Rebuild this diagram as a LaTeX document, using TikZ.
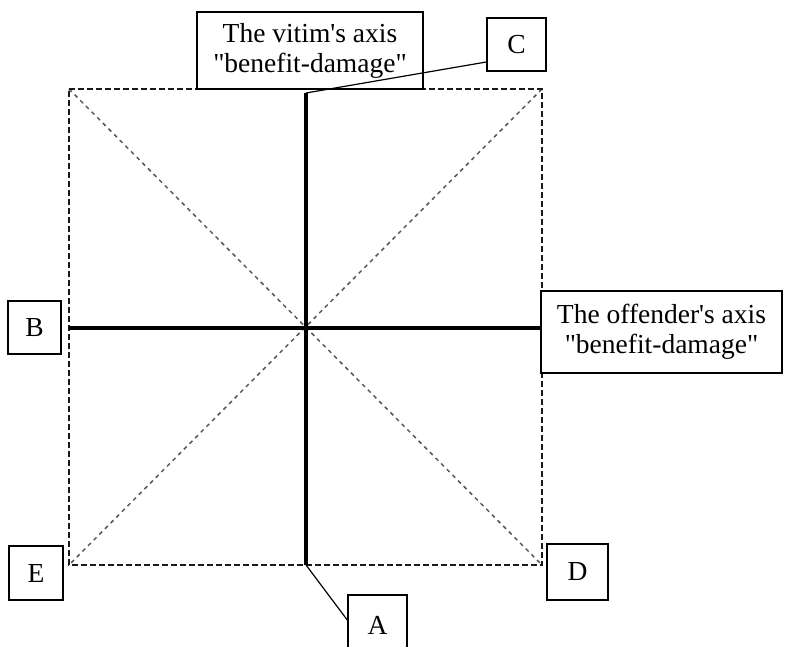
\documentclass[tikz,border=0pt]{standalone}
\usepackage{fontspec}
\setmainfont{Liberation Serif}[Ligatures=TeXOff]
\begin{document}
\begin{tikzpicture}[x=1pt,y=-1pt,
  dsh/.style={draw=black!90,line width=1.3pt,dash pattern=on 6pt off 3pt},
  diag/.style={draw=black!65,line width=1.5pt,dash pattern=on 4pt off 4pt},
  axis/.style={draw=black,line width=4pt},
  lab/.style={draw=black,line width=1.4pt,fill=white,inner sep=0pt,align=center,
    font=\fontsize{27.5}{30}\selectfont},
  conn/.style={draw=black,line width=1.2pt}]
\useasboundingbox (0,0) rectangle (785,647);
% corners of dashed square
\coordinate (q1) at (69,89);
\coordinate (q2) at (542,89);
\coordinate (q3) at (542,565);
\coordinate (q4) at (69,565);
\draw[diag] (q1) -- (q3);
\draw[diag] (q2) -- (q4);
\draw[dsh] (q1) -- (q2) -- (q3) -- (q4) -- cycle;
% axes
\coordinate (vtop) at (306,93);
\coordinate (vbot) at (306,565);
\coordinate (hleft) at (69,328);
\draw[axis] (vtop) -- (vbot);
% boxes
\node[lab,minimum width=226pt,minimum height=77pt] (vit) at (310,50.5) {The vitim's axis\\"benefit-damage"};
\node[lab,minimum width=59pt,minimum height=53pt] (C) at (516.5,44.5) {C};
\node[lab,minimum width=53pt,minimum height=53pt] (B) at (34.5,327.5) {B};
\node[lab,minimum width=241pt,minimum height=82pt] (off) at (661.5,332) {The offender's axis\\"benefit-damage"};
\node[lab,minimum width=54pt,minimum height=54pt] (E) at (36,573) {E};
\node[lab,minimum width=61pt,minimum height=56pt] (D) at (577.5,572) {D};
\node[lab,minimum width=59pt,minimum height=60pt] (A) at (377.5,625) {A};
\draw[axis] (hleft) -- (off.west |- hleft);
% connectors
\draw[conn] (C.west |- 0,62) -- (vtop);
\draw[conn] (vbot) -- (A.west |- 0,620);
\end{tikzpicture}
\end{document}
